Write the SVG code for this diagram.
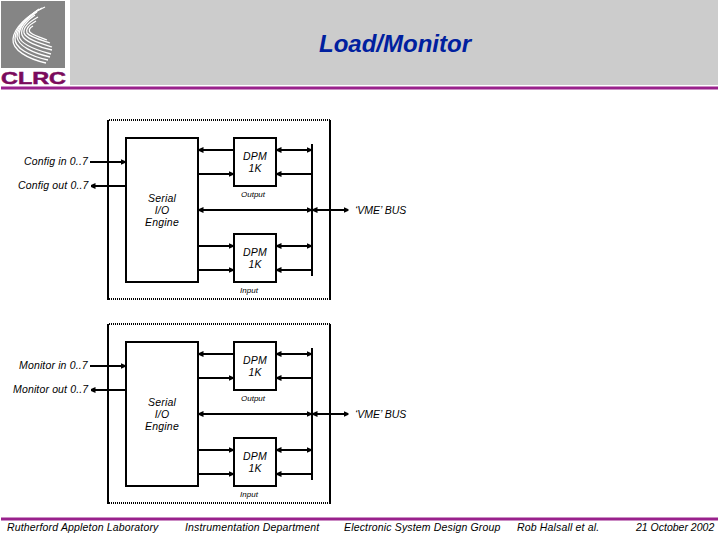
<svg xmlns="http://www.w3.org/2000/svg" width="720" height="540" viewBox="0 0 720 540">
<style>
text{font-family:"Liberation Sans",Arial,sans-serif;font-style:italic;fill:#000}
.l{font-size:10.5px;letter-spacing:.15px}
.c{font-size:10.5px;letter-spacing:.2px;text-anchor:middle}
.s{font-size:8px;text-anchor:middle}
.f{font-size:10.5px;letter-spacing:.16px}
.b{fill:#fff;stroke:#000;stroke-width:2}
.w{fill:none;stroke:#000;stroke-width:2}
.d{fill:none;stroke:#000;stroke-width:2;stroke-dasharray:1 1}
.sw{fill:none;stroke:#fff;stroke-width:1.3}
</style>
<defs>
<marker id="a" viewBox="0 0 5 6" refX="4.500" refY="3" markerWidth="5" markerHeight="6" markerUnits="userSpaceOnUse" orient="auto-start-reverse"><path d="M0 0L5 2.200V3.800L0 6Z" fill="#000"/></marker>
<g id="frame">
<path class="d" d="M109 120H330M109 299H330"/>
<path class="w" d="M108 120V300M330 120V300"/>
</g>
<g id="conn">
<path class="w" d="M312 144V276"/>
<path class="w" marker-start="url(#a)" d="M199 150H234"/>
<path class="w" marker-end="url(#a)" d="M198 174H233"/>
<path class="w" marker-start="url(#a)" marker-end="url(#a)" d="M199 210H311"/>
<path class="w" marker-end="url(#a)" d="M198 246H233"/>
<path class="w" marker-end="url(#a)" d="M198 270H233"/>
<path class="w" marker-start="url(#a)" marker-end="url(#a)" d="M277 150H311"/>
<path class="w" marker-start="url(#a)" d="M277 174H312"/>
<path class="w" marker-start="url(#a)" marker-end="url(#a)" d="M277 246H311"/>
<path class="w" marker-start="url(#a)" d="M277 270H312"/>
<path class="w" marker-start="url(#a)" marker-end="url(#a)" d="M313 210H348"/>
<path class="w" marker-end="url(#a)" d="M90 162H125"/>
<path class="w" marker-start="url(#a)" d="M91 186H128"/>
</g>
</defs>
<g id="header">
<rect x="70" y="0" width="648" height="85" fill="#cccccc"/>
<rect x="1" y="1" width="64" height="67" fill="#858585"/>
<g class="swirl">
<path class="sw" d="M45 7C27 15 14 28 13 39C12 50 28 59 46 63"/>
<path class="sw" d="M42 8C26 17 16 28 15 38C14 48 30 56 48 60"/>
<path class="sw" d="M39 9C26 18 17 29 17 37C18 46 33 53 50 57"/>
<path class="sw" d="M37 12C26 19 19 28 19 36C20 44 36 50 51 54"/>
<path class="sw" d="M35 15C26 21 20 29 22 35C24 41 38 47 52 50"/>
<path class="sw" d="M38 17C29 22 23 28 24 33C26 39 40 43 52 47"/>
<path class="sw" d="M36 21C29 25 25 29 27 33C30 37 41 40 50 43"/>
<path class="sw" d="M33 26C29 28 28 31 31 33C35 36 42 38 47 40"/>
</g>
<text x="1" y="84" textLength="65" lengthAdjust="spacingAndGlyphs" style="font-style:normal;font-weight:bold;font-size:16.500px;fill:#7a0a5c;stroke:#7a0a5c;stroke-width:.5">CLRC</text>
<text x="395" y="52" text-anchor="middle" style="font-size:24px;font-weight:bold;fill:#00209f">Load/Monitor</text>
<rect x="1" y="86.500" width="717" height="3" fill="#99218c"/>
</g>
<g id="connectors">
<use href="#frame"/>
<use href="#conn"/>
<use href="#frame" y="204"/>
<use href="#conn" y="204"/>
</g>
<g id="serial1"><rect class="b" x="126" y="138" width="72" height="144"/><text class="c" x="162" y="202">Serial</text><text class="c" x="162" y="214">I/O</text><text class="c" x="162" y="226">Engine</text></g>
<g id="dpm1"><rect class="b" x="234" y="138" width="42" height="48"/><text class="c" x="255" y="160">DPM</text><text class="c" x="255" y="172">1K</text><text class="s" x="253" y="197">Output</text></g>
<g id="dpm2"><rect class="b" x="234" y="234" width="42" height="48"/><text class="c" x="255" y="256">DPM</text><text class="c" x="255" y="268">1K</text><text class="s" x="249" y="293">Input</text></g>
<g id="serial2"><rect class="b" x="126" y="342" width="72" height="144"/><text class="c" x="162" y="406">Serial</text><text class="c" x="162" y="418">I/O</text><text class="c" x="162" y="430">Engine</text></g>
<g id="dpm3"><rect class="b" x="234" y="342" width="42" height="48"/><text class="c" x="255" y="364">DPM</text><text class="c" x="255" y="376">1K</text><text class="s" x="253" y="401">Output</text></g>
<g id="dpm4"><rect class="b" x="234" y="438" width="42" height="48"/><text class="c" x="255" y="460">DPM</text><text class="c" x="255" y="472">1K</text><text class="s" x="249" y="497">Input</text></g>
<g id="labels">
<text class="l" x="24" y="165">Config in 0..7</text>
<text class="l" x="18" y="189">Config out 0..7</text>
<text class="l" x="355" y="214" style="letter-spacing:0">‘VME’ BUS</text>
<text class="l" x="19" y="369">Monitor in 0..7</text>
<text class="l" x="13" y="393">Monitor out 0..7</text>
<text class="l" x="355" y="418" style="letter-spacing:0">‘VME’ BUS</text>
</g>
<g id="footer">
<rect x="1" y="517.500" width="717" height="3" fill="#99218c"/>
<text class="f" x="7" y="531">Rutherford Appleton Laboratory</text>
<text class="f" x="185" y="531">Instrumentation Department</text>
<text class="f" x="344" y="531">Electronic System Design Group</text>
<text class="f" x="517" y="531">Rob Halsall et al.</text>
<text class="f" x="636" y="531" style="letter-spacing:0">21 October 2002</text>
</g>
</svg>
